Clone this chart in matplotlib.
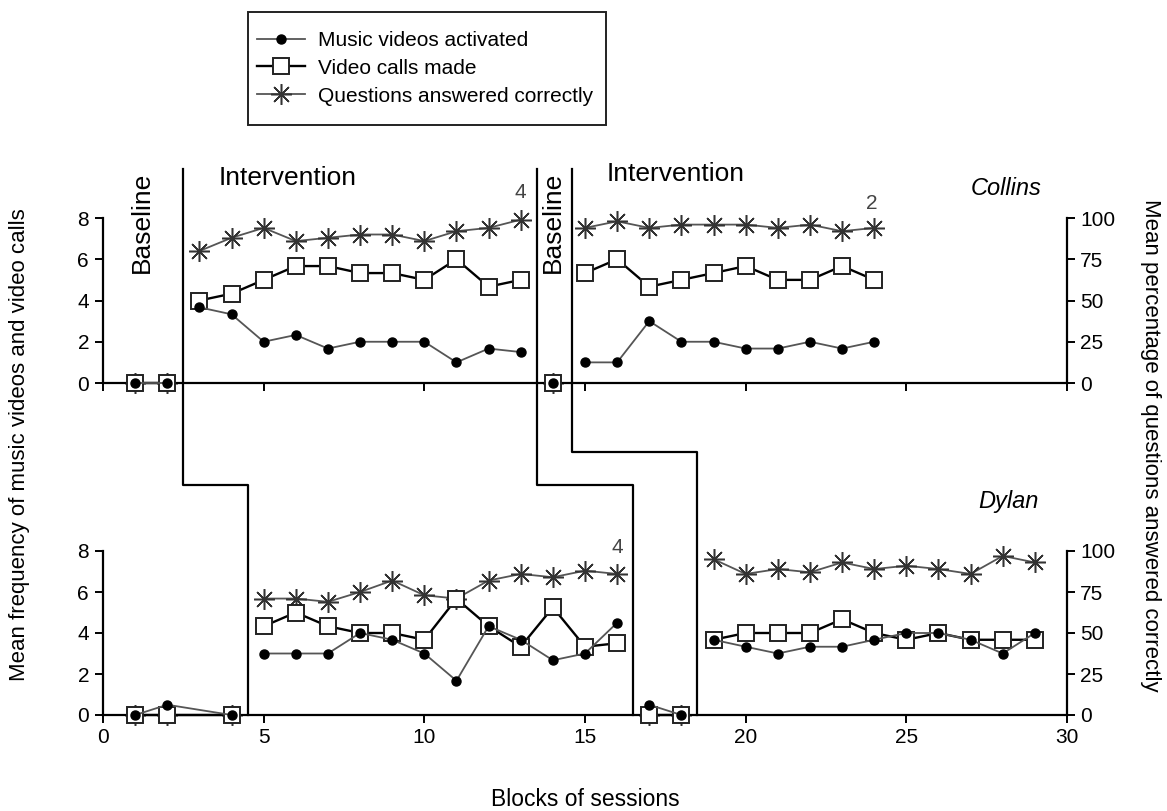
import matplotlib
matplotlib.use('Agg')
import matplotlib.pyplot as plt
import matplotlib.transforms as mtransforms
from matplotlib.lines import Line2D
from matplotlib.patches import Rectangle

plt.rcParams['font.family'] = ['Liberation Sans', 'DejaVu Sans']

# ---- Collins (top panel) ----
col_bl1_x = [1, 2]
col_bl1_music = [0, 0]
col_bl1_calls = [0, 0]
col_bl1_quest = [0, 0]

col_int1_x = list(range(3, 14))
col_int1_music = [3.67, 3.33, 2, 2.33, 1.67, 2, 2, 2, 1, 1.67, 1.5]
col_int1_calls = [4, 4.33, 5, 5.67, 5.67, 5.33, 5.33, 5, 6, 4.67, 5]
col_int1_quest = [80, 88, 94, 86, 88, 90, 90, 86, 92, 94, 99]

col_bl2_x = [14]
col_bl2_music = [0]
col_bl2_calls = [0]
col_bl2_quest = [0]

col_int2_x = list(range(15, 25))
col_int2_music = [1, 1, 3, 2, 2, 1.67, 1.67, 2, 1.67, 2]
col_int2_calls = [5.33, 6, 4.67, 5, 5.33, 5.67, 5, 5, 5.67, 5]
col_int2_quest = [94, 98, 94, 96, 96, 96, 94, 96, 92, 94]

# ---- Dylan (bottom panel) ----
dyl_bl1_x = [1, 2, 4]
dyl_bl1_music = [0, 0.5, 0]
dyl_bl1_calls = [0, 0, 0]
dyl_bl1_quest = [0, 0, 0]

dyl_int1_x = list(range(5, 17))
dyl_int1_music = [3, 3, 3, 4, 3.67, 3, 1.67, 4.33, 3.67, 2.67, 3, 4.5]
dyl_int1_calls = [4.33, 5, 4.33, 4, 4, 3.67, 5.67, 4.33, 3.33, 5.25, 3.33, 3.5]
dyl_int1_quest = [71, 71, 69, 75, 82, 73, 71, 82, 86, 84, 88, 86]

dyl_bl2_x = [17, 18]
dyl_bl2_music = [0.5, 0]
dyl_bl2_calls = [0, 0]
dyl_bl2_quest = [0, 0]

dyl_int2_x = list(range(19, 30))
dyl_int2_music = [3.67, 3.33, 3, 3.33, 3.33, 3.67, 4, 4, 3.67, 3, 4]
dyl_int2_calls = [3.67, 4, 4, 4, 4.67, 4, 3.67, 4, 3.67, 3.67, 3.67]
dyl_int2_quest = [95, 86, 89, 87, 93, 89, 91, 89, 86, 97, 93]

# phase change lines: x in top panel, x in bottom panel
phase_top = [2.5, 13.5, 14.6]
phase_bot = [4.5, 16.5, 18.5]

W, H = 1167, 811
fig = plt.figure(figsize=(W / 100, H / 100), dpi=100)
ax_top = fig.add_axes([103 / W, 1 - 383 / H, 964 / W, 165 / H])
ax_bot = fig.add_axes([103 / W, 1 - 715 / H, 964 / W, 164 / H])

music_kw = dict(color='#555555', lw=1.3, marker='o', ms=6.5, mfc='black', mec='black', clip_on=False, zorder=4)
calls_kw = dict(color='black', lw=1.7, marker='s', ms=11, mfc='white', mec='#222222', mew=1.4, clip_on=False, zorder=3)
quest_kw = dict(color='#555555', lw=1.3, marker=(8, 2, 0), ms=15, mec='#333333', mew=1.1, clip_on=False, zorder=2)

panels = [
    (ax_top, [(col_bl1_x, col_bl1_music, col_bl1_calls, col_bl1_quest),
              (col_int1_x, col_int1_music, col_int1_calls, col_int1_quest),
              (col_bl2_x, col_bl2_music, col_bl2_calls, col_bl2_quest),
              (col_int2_x, col_int2_music, col_int2_calls, col_int2_quest)]),
    (ax_bot, [(dyl_bl1_x, dyl_bl1_music, dyl_bl1_calls, dyl_bl1_quest),
              (dyl_int1_x, dyl_int1_music, dyl_int1_calls, dyl_int1_quest),
              (dyl_bl2_x, dyl_bl2_music, dyl_bl2_calls, dyl_bl2_quest),
              (dyl_int2_x, dyl_int2_music, dyl_int2_calls, dyl_int2_quest)]),
]

for ax, phases in panels:
    ax2 = ax.twinx()
    ax.set_zorder(ax2.get_zorder() + 1)
    ax.patch.set_visible(False)
    for x, m, c, q in phases:
        ax2.plot(x, q, **quest_kw)
        ax.plot(x, c, **calls_kw)
        ax.plot(x, m, **music_kw)

    ax.set_xlim(0, 30)
    ax.set_ylim(0, 8)
    ax2.set_ylim(0, 100)
    ax.set_yticks([0, 2, 4, 6, 8])
    ax2.set_yticks([0, 25, 50, 75, 100])
    ax.set_xticks([0, 5, 10, 15, 20, 25, 30])
    for a in (ax, ax2):
        a.spines['top'].set_visible(False)
        for s in a.spines.values():
            s.set_linewidth(1.6)
    ax.spines['right'].set_visible(False)
    ax2.spines['left'].set_visible(False)
    ax2.spines['bottom'].set_visible(False)
    ax.tick_params(axis='both', labelsize=15, width=1.4, length=6, color='black')
    ax2.tick_params(axis='y', labelsize=15, width=1.4, length=6)
    ax.tick_params(axis='y', pad=4)

ax_top.tick_params(axis='x', labelbottom=False)

# phase change lines across the two panels
trans = mtransforms.blended_transform_factory(ax_top.transData, fig.transFigure)
top_y = 1 - 169 / H
step_y = [1 - 485 / H, 1 - 485 / H, 1 - 452 / H]
base_y = 1 - 715 / H
for xt, xb, sy in zip(phase_top, phase_bot, step_y):
    fig.add_artist(Line2D([xt, xt, xb, xb], [top_y, sy, sy, base_y],
                          transform=trans, color='black', lw=1.6))

# phase labels
ax_top.text(1.21, 7.77, 'Baseline', rotation=90, fontsize=19, ha='center', va='center', clip_on=False)
ax_top.text(14.0, 7.77, 'Baseline', rotation=90, fontsize=19, ha='center', va='center', clip_on=False)
ax_top.text(5.76, 9.95, 'Intervention', fontsize=19, ha='center', va='center', clip_on=False)
ax_top.text(17.83, 10.15, 'Intervention', fontsize=19, ha='center', va='center', clip_on=False)
ax_top.text(13.0, 9.22, '4', fontsize=15, color='#444444', ha='center', va='center', clip_on=False)
ax_top.text(23.93, 8.69, '2', fontsize=15, color='#444444', ha='center', va='center', clip_on=False)
ax_top.text(29.2, 9.42, 'Collins', fontsize=17, style='italic', ha='right', va='center', clip_on=False)
ax_bot.text(16.0, 8.15, '4', fontsize=15, color='#444444', ha='center', va='center', clip_on=False)
ax_bot.text(29.13, 10.4, 'Dylan', fontsize=17, style='italic', ha='right', va='center', clip_on=False)

fig.text(20 / W, 1 - 445 / H, 'Mean frequency of music videos and video calls',
         rotation=90, fontsize=16, ha='center', va='center')
fig.text(1150 / W, 1 - 445 / H, 'Mean percentage of questions answered correctly',
         rotation=270, fontsize=16, ha='center', va='center')
fig.text(585 / W, 1 - 800 / H, 'Blocks of sessions', fontsize=16.5, ha='center', va='center')

handles = [
    Line2D([], [], **music_kw),
    Line2D([], [], **calls_kw),
    Line2D([], [], **quest_kw),
]
labels = ['Music videos activated', 'Video calls made', 'Questions answered correctly']
leg = fig.legend(handles, labels, loc='upper left', bbox_to_anchor=(257 / W, 1 - 31 / H),
                 fontsize=15, frameon=False, handlelength=2.3, labelspacing=0.42,
                 borderpad=0, handletextpad=0.65, borderaxespad=0)
fig.add_artist(Rectangle((248 / W, 1 - 125 / H), 358 / W, 113 / H, transform=fig.transFigure,
                         fill=False, edgecolor='#222222', lw=1.4))

fig.savefig('out.png', dpi=100)
